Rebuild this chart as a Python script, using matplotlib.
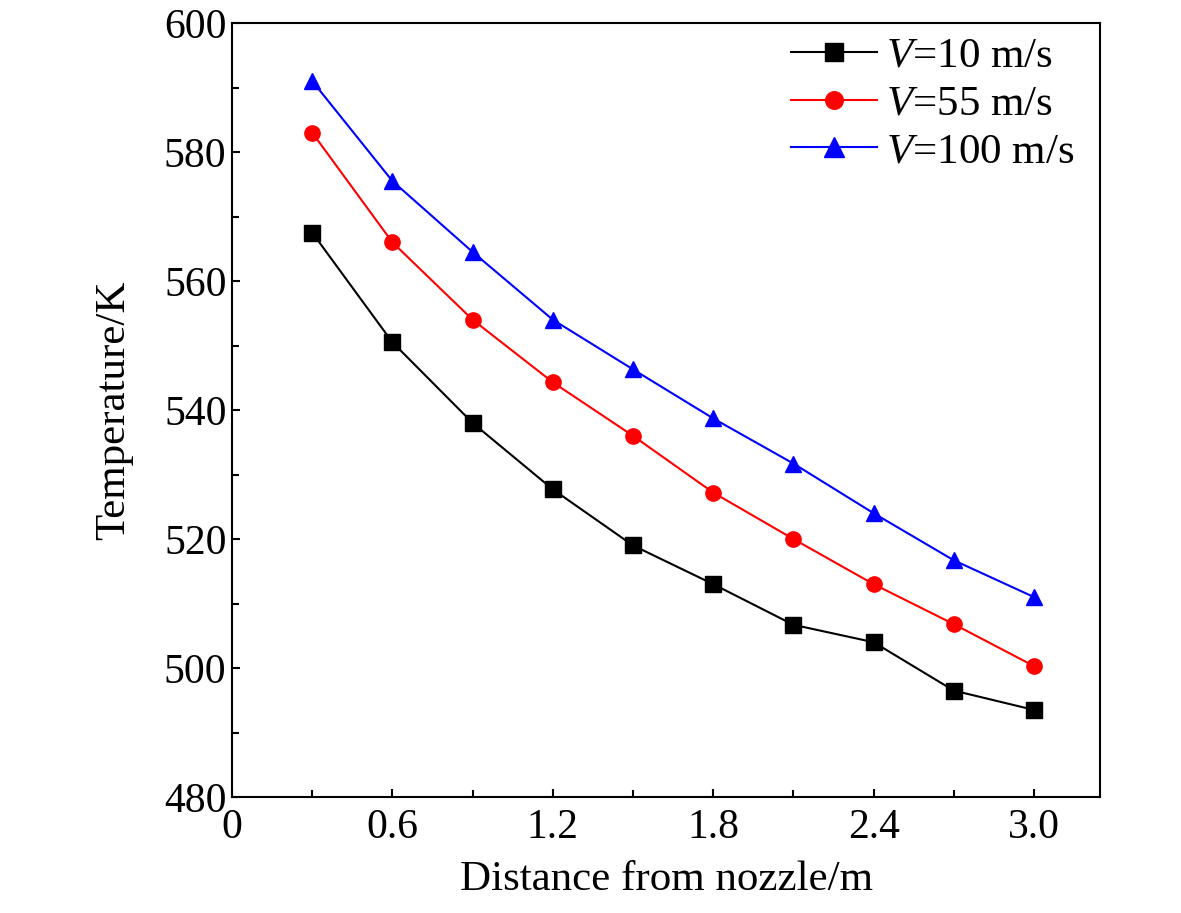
import matplotlib
matplotlib.use("Agg")
import matplotlib.pyplot as plt
from matplotlib.ticker import MultipleLocator

plt.rcParams['font.family'] = ['Liberation Serif', 'DejaVu Serif']
plt.rcParams['mathtext.fontset'] = 'custom'
plt.rcParams['mathtext.it'] = 'Liberation Serif:italic'
plt.rcParams['mathtext.rm'] = 'Liberation Serif'

x = [0.3, 0.6, 0.9, 1.2, 1.5, 1.8, 2.1, 2.4, 2.7, 3.0]
v10 = [567.5, 550.5, 538, 527.7, 519, 513, 506.7, 504, 496.5, 493.5]
v55 = [583, 566, 554, 544.3, 536, 527.2, 520, 513, 506.8, 500.3]
v100 = [591, 575.5, 564.5, 554, 546.3, 538.7, 531.7, 524, 516.7, 511]

fig = plt.figure(figsize=(11.81, 9.13), dpi=100)
ax = fig.add_axes([232/1181, 1-797/913, (1100-232)/1181, (797-23)/913])
ax.plot(x, v10, '-s', color='black', ms=11, lw=1.5, label='$V$=10 m/s')
ax.plot(x, v55, '-o', color='red', ms=11, lw=1.5, label='$V$=55 m/s')
ax.plot(x, v100, '-^', color='blue', ms=12, lw=1.5, label='$V$=100 m/s')
ax.set_xlim(0, 3.247)
ax.set_ylim(480, 600)
ax.set_xticks([0, 0.6, 1.2, 1.8, 2.4, 3.0])
ax.set_xticklabels(['0', '0.6', '1.2', '1.8', '2.4', '3.0'])
ax.xaxis.set_minor_locator(MultipleLocator(0.3))
ax.yaxis.set_major_locator(MultipleLocator(20))
ax.yaxis.set_minor_locator(MultipleLocator(10))
ax.tick_params(which='both', direction='in', labelsize=30, width=1.5)
ax.tick_params(which='major', length=6)
ax.tick_params(which='minor', length=5)
ax.tick_params(axis='x', pad=8)
ax.tick_params(axis='y', pad=4)
for s in ax.spines.values():
    s.set_linewidth(1.5)
ax.set_xlabel('Distance from nozzle/m', fontsize=31, labelpad=10)
ax.set_ylabel('Temperature/K', fontsize=31, labelpad=22)
ax.legend(loc='upper right', frameon=False, fontsize=31, handlelength=2.0,
          handletextpad=0.2, borderaxespad=0.1, labelspacing=0.2,
          markerscale=1.15, bbox_to_anchor=(0.995, 1.01))
fig.savefig('out.png', dpi=100)
